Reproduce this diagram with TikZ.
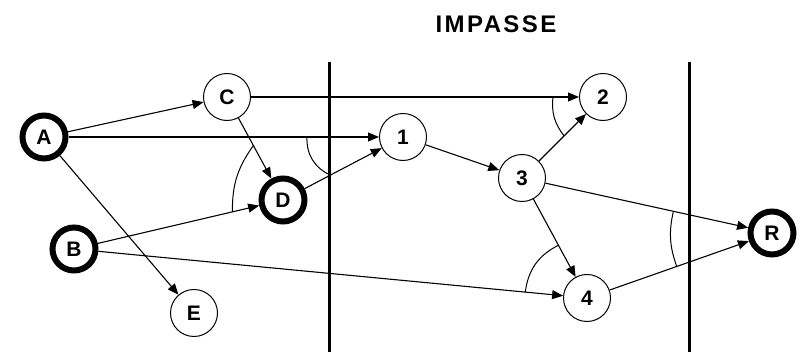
\documentclass[tikz,border=0pt]{standalone}
\usepackage{fontspec}
\setmainfont{Liberation Sans}
\usetikzlibrary{arrows.meta,calc}
\begin{document}
\begin{tikzpicture}[x=1pt,y=1pt,
  lbl/.style={font=\fontsize{21}{21}\selectfont\bfseries},
  st/.style={circle,draw,line width=1pt,minimum size=47pt,inner sep=0pt,lbl},
  tk/.style={circle,draw,line width=6pt,minimum size=43pt,inner sep=0pt,lbl},
  ed/.style={line width=1.1pt,-{Triangle[length=11pt,width=9pt]}},
  jn/.style={line width=1pt},
  wall/.style={line width=3pt}]
\useasboundingbox (0,0) rectangle (801,352);
% walls
\draw[wall] (329,290) -- (329,0);
\draw[wall] (689,290) -- (689,0);
\node[font=\fontsize{24}{24}\selectfont\bfseries\addfontfeature{LetterSpace=10}] (title) at (496,328) {IMPASSE};
% nodes
\node[tk] (A) at (44,215) {A};
\node[st] (C) at (227,255) {C};
\node[tk] (D) at (283,152) {D};
\node[tk] (B) at (74,103) {B};
\node[st] (E) at (194,39) {E};
\node[st] (n1) at (403,215) {1};
\node[st] (n2) at (603,255) {2};
\node[st] (n3) at (522,174) {3};
\node[st] (n4) at (587,54) {4};
\node[tk] (R) at (772,119) {R};
% edges
\draw[ed] (A) -- (C);
\draw[ed] (A) -- (n1);
\draw[ed] (A) -- (E);
\draw[ed] (C) -- (D);
\draw[ed] (C) -- (n2);
\draw[ed] (D) -- (n1);
\draw[ed] (B) -- (D);
\draw[ed] (B) -- (n4);
\draw[ed] (n1) -- (n3);
\draw[ed] (n3) -- (n2);
\draw[ed] (n3) -- (n4);
\draw[ed] (n3) -- (R);
\draw[ed] (n4) -- (R);
% join arcs
\draw[jn] ($(D)!62pt!(C)$) to[bend right=18] ($(D)!52pt!(B)$);
\draw[jn] ($(n1)!96pt!(A)$) to[bend right=34] ($(n1)!82pt!(D)$);
\draw[jn] ($(n2)!50pt!(C)$) to[bend right=22] ($(n2)!55pt!(n3)$);
\draw[jn] ($(n4)!60pt!(n3)$) to[bend right=28] ($(n4)!62pt!(B)$);
\draw[jn] ($(R)!101pt!(n3)$) to[bend right=16] ($(R)!101pt!(n4)$);
\end{tikzpicture}
\end{document}
